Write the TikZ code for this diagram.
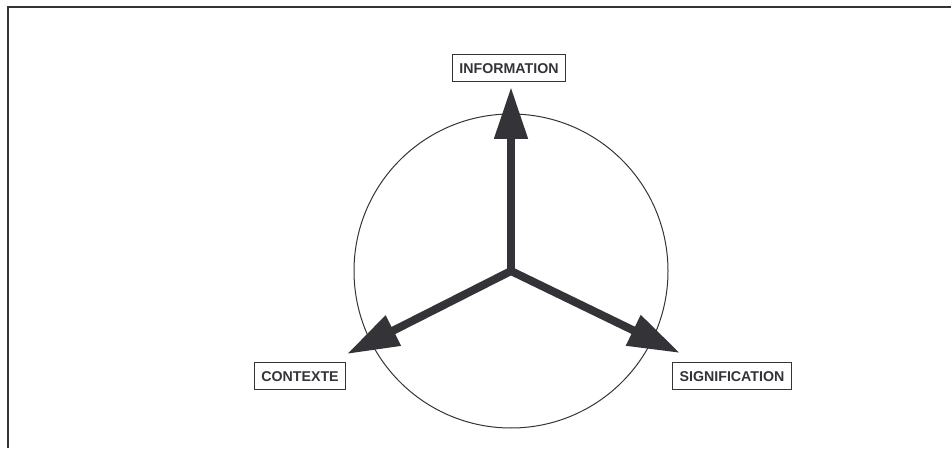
\documentclass[tikz,border=0pt]{standalone}
\usepackage{fontspec}
\setmainfont{Liberation Sans}
\usetikzlibrary{arrows.meta}
\definecolor{encre}{HTML}{333338}
\begin{document}
\begin{tikzpicture}[x=1pt,y=1pt,
  etiq/.style={draw=encre,line width=1.5pt,text=encre,font=\bfseries\fontsize{14.2}{15}\selectfont,
    minimum height=27pt,inner xsep=7pt,text height=10.2pt,text depth=0pt},
  fleche/.style={draw=encre,line width=8pt,-{Triangle[width=32pt,length=52pt]}}]
\useasboundingbox (0,0) rectangle (951,448);
\draw[encre,line width=2pt] (8,0) -- (8,441) -- (951,441);
\coordinate (C) at (511,177);
\draw[encre,line width=1pt] (C) circle (157);
\node[etiq] (I) at (509,380) {INFORMATION};
\node[etiq] (X) at (300,72) {CONTEXTE};
\node[etiq] (S) at (732,72) {SIGNIFICATION};
\coordinate (tI) at (511,361);
\coordinate (tX) at (347,94);
\coordinate (tS) at (680,95);
\draw[fleche] (C) -- (tI);
\draw[fleche] (C) -- (tX);
\draw[fleche] (C) -- (tS);
\fill[encre] (C) circle (4);
\end{tikzpicture}
\end{document}
